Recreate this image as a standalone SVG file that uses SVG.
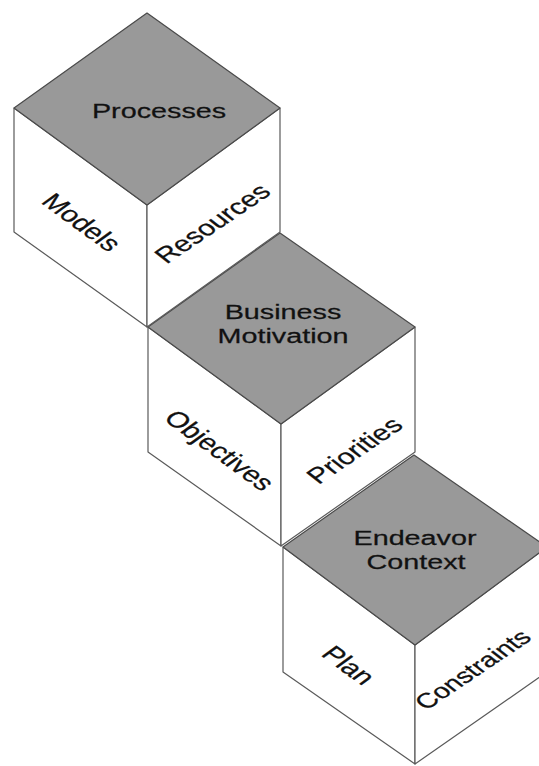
<svg xmlns="http://www.w3.org/2000/svg" width="539" height="766" viewBox="0 0 539 766">
<style>
.top{fill:#999999;stroke:#4a4a4a;stroke-width:1.2;stroke-linejoin:round}
.side{fill:#ffffff;stroke:#5a5a5a;stroke-width:1.2;stroke-linejoin:round}
text{font-family:"Liberation Sans",Arial,sans-serif;font-size:21px;fill:#111111;stroke:#111111;stroke-width:0.25;text-anchor:middle}
.s{font-size:22px}
</style>
<rect width="539" height="766" fill="#ffffff"/>
<g id="cube-endeavor">
<polygon class="side" points="283,547 415,645 415,764 283,672"/>
<polygon class="side" points="547,547 415,645 415,764 547,672"/>
<polygon class="top" points="414,455 547,547 415,645 283,547"/>
<text transform="translate(415,545) scale(1.37,1)">Endeavor</text>
<text transform="translate(416,569) scale(1.37,1)">Context</text>
<text class="s" transform="translate(349,665) scale(1.37,1) rotate(45)" y="8">Plan</text>
<text transform="translate(472,669) scale(1.37,1) rotate(-42.7)" y="8">Constraints</text>
</g>
<g id="cube-business">
<polygon class="side" points="148,327 281,424 281,546 148,452"/>
<polygon class="side" points="415,327 281,424 281,546 415,452"/>
<polygon class="top" points="280,233 415,327 281,424 148,327"/>
<text transform="translate(283,319) scale(1.37,1)">Business</text>
<text transform="translate(283,343) scale(1.37,1)">Motivation</text>
<text class="s" transform="translate(220,450) scale(1.37,1) rotate(45)" y="8">Objectives</text>
<text class="s" transform="translate(354,450) scale(1.37,1) rotate(-42.7)" y="8">Priorities</text>
</g>
<g id="cube-processes">
<polygon class="side" points="14,108 147,205 147,327 14,232"/>
<polygon class="side" points="280,108 147,205 147,327 280,232"/>
<polygon class="top" points="147,13 280,108 147,205 14,108"/>
<text transform="translate(159,118) scale(1.37,1)">Processes</text>
<text class="s" transform="translate(82,222) scale(1.37,1) rotate(45)" y="8">Models</text>
<text class="s" transform="translate(212,223) scale(1.37,1) rotate(-42.7)" y="8">Resources</text>
</g>
<g id="connectors"></g>
</svg>
